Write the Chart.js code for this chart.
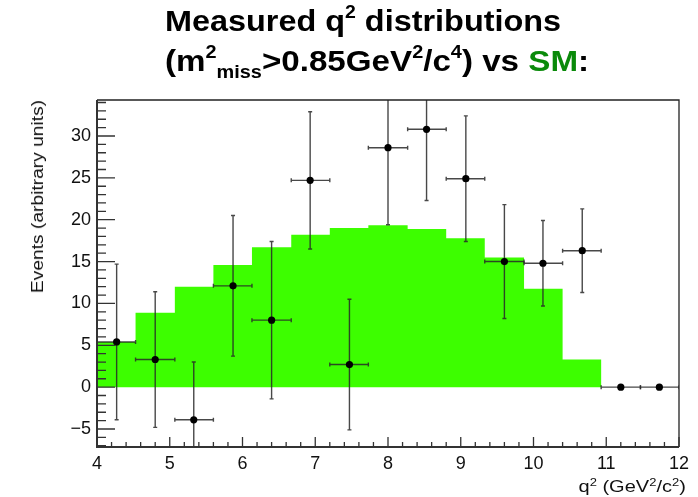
<!DOCTYPE html>
<html>
<head>
<meta charset="utf-8">
<script src="https://cdn.jsdelivr.net/npm/chart.js@4/dist/chart.umd.min.js"></script>
<style>
  html, body { margin: 0; padding: 0; background: #fff; }
  #wrap { position: relative; width: 698px; height: 497px; overflow: hidden; }
  #c { position: absolute; left: 0; top: 0; }
  .txt { position: absolute; font-family: 'Liberation Sans', Arial, Helvetica, sans-serif; color: #111; white-space: nowrap; }
  #title { left: 165px; top: 3px; color: #000; font-weight: bold; font-size: 30px; line-height: 36px; }
  #title .l1 { display: block; transform-origin: 0 0; transform: scaleX(1.08); }
  #title .l2 { display: block; transform-origin: 0 0; transform: scaleX(1.105); }
  #title sup { font-size: 60%; vertical-align: 0; position: relative; top: -0.72em; }
  #title sub { font-size: 60%; vertical-align: 0; position: relative; top: 0.38em; }
  #title .sm { color: #0a8a0a; }
  #ytitle {
    left: 30px; top: 100px; font-size: 16px; line-height: 16px;
    transform-origin: 0 0; transform: rotate(-90deg) scaleX(1.2) translateX(-100%);
  }
  #xtitle {
    right: 12px; top: 479px; font-size: 16px; line-height: 16px;
    transform-origin: 100% 0; transform: scaleX(1.25);
  }
  #xtitle sup { font-size: 65%; vertical-align: 0; position: relative; top: -0.6em; }
</style>
</head>
<body>
<div id="wrap">
  <canvas id="c" width="698" height="497"></canvas>
  <div id="title" class="txt"><span class="l1">Measured q<sup>2</sup> distributions</span><span class="l2">(m<sup>2</sup><sub>miss</sub>&gt;0.85GeV<sup>2</sup>/c<sup>4</sup>) vs <span class="sm">SM</span>:</span></div>
  <div id="ytitle" class="txt">Events (arbitrary units)</div>
  <div id="xtitle" class="txt">q<sup>2</sup> (GeV<sup>2</sup>/c<sup>2</sup>)</div>
</div>
<script>
// ---- data ----
const binEdges = [4.00, 4.53, 5.07, 5.60, 6.13, 6.67, 7.20, 7.73, 8.27, 8.80, 9.33, 9.87, 10.40, 10.93, 11.47, 12.00];
const binCenters = [4.27, 4.80, 5.33, 5.87, 6.40, 6.93, 7.47, 8.00, 8.53, 9.07, 9.60, 10.13, 10.67, 11.20, 11.73];
const smExpected = [5.4, 8.9, 12.0, 14.6, 16.7, 18.2, 19.0, 19.35, 18.9, 17.8, 15.5, 11.75, 3.3, 0, 0];
const measured   = [5.4, 3.3, -3.9, 12.1, 8.0, 24.7, 2.7, 28.6, 30.8, 24.9, 15.0, 14.8, 16.3, 0, 0];
const measErr    = [9.3, 8.1, 6.9, 8.4, 9.4, 8.2, 7.8, 9.2, 8.5, 7.5, 6.8, 5.1, 5.0, 0, 0];
const xTickLabels = ['4', '5', '6', '7', '8', '9', '10', '11', '12'];
const yTickValues = [-5, 0, 5, 10, 15, 20, 25, 30];

const FONT = "'Liberation Sans', Arial, Helvetica, sans-serif";

const histData = binEdges.map((e, i) => ({ x: e, y: i < smExpected.length ? smExpected[i] : 0 }));
const pointData = binCenters.map((c, i) => ({ x: c, y: measured[i] }));

const errorBars = {
  id: 'errorBars',
  beforeDatasetDraw(chart, args) {
    if (args.index !== 1) return;
    const ctx = chart.ctx, xs = chart.scales.x, ys = chart.scales.y, a = chart.chartArea;
    ctx.save();
    ctx.beginPath(); ctx.rect(a.left, a.top, a.right - a.left, a.bottom - a.top); ctx.clip();
    ctx.strokeStyle = 'rgba(40,40,40,0.85)';
    ctx.lineWidth = 1.4;
    const cap = 2;
    binCenters.forEach((c, i) => {
      const px = xs.getPixelForValue(c), py = ys.getPixelForValue(measured[i]);
      const xl = xs.getPixelForValue(binEdges[i]), xr = xs.getPixelForValue(binEdges[i + 1]);
      ctx.beginPath();
      ctx.moveTo(xl, py); ctx.lineTo(xr, py);
      ctx.moveTo(xl, py - cap); ctx.lineTo(xl, py + cap);
      ctx.moveTo(xr, py - cap); ctx.lineTo(xr, py + cap);
      if (measErr[i] > 0) {
        const yt = ys.getPixelForValue(measured[i] + measErr[i]);
        const yb = ys.getPixelForValue(measured[i] - measErr[i]);
        ctx.moveTo(px, yt); ctx.lineTo(px, yb);
        ctx.moveTo(px - cap, yt); ctx.lineTo(px + cap, yt);
        ctx.moveTo(px - cap, yb); ctx.lineTo(px + cap, yb);
      }
      ctx.stroke();
    });
    ctx.restore();
  }
};

const frameTicks = {
  id: 'frameTicks',
  afterDraw(chart) {
    const ctx = chart.ctx, xs = chart.scales.x, ys = chart.scales.y, a = chart.chartArea;
    ctx.save();
    ctx.strokeStyle = '#222';
    ctx.lineWidth = 1.3;
    ctx.beginPath();
    ctx.moveTo(a.left, a.top); ctx.lineTo(a.right, a.top); ctx.lineTo(a.right, a.bottom);
    ctx.stroke();
    ctx.lineWidth = 2;
    ctx.strokeStyle = '#333';
    ctx.beginPath();
    ctx.moveTo(a.left, a.top); ctx.lineTo(a.left, a.bottom); ctx.lineTo(a.right, a.bottom);
    ctx.stroke();
    ctx.lineWidth = 1.3;
    ctx.beginPath();
    for (let v = Math.ceil(ys.min); v <= ys.max; v += 1) {
      const p = ys.getPixelForValue(v);
      const len = (v % 5 === 0) ? 18 : 9;
      ctx.moveTo(a.left, p); ctx.lineTo(a.left + len, p);
    }
    for (let k = 0; k <= 40; k++) {
      const v = xs.min + k * 0.2;
      const p = xs.getPixelForValue(v);
      const len = (k % 5 === 0) ? 10 : 5;
      ctx.moveTo(p, a.bottom); ctx.lineTo(p, a.bottom - len);
    }
    ctx.stroke();
    ctx.restore();
  }
};

new Chart(document.getElementById('c'), {
  data: {
    datasets: [
      {
        type: 'line',
        data: histData,
        stepped: true,
        fill: 'origin',
        backgroundColor: '#3dfe00',
        borderColor: 'rgba(0,0,0,0)',
        borderWidth: 0,
        pointRadius: 0,
        order: 2
      },
      {
        type: 'scatter',
        data: pointData,
        backgroundColor: '#000',
        borderColor: '#000',
        pointRadius: 3.6,
        pointBorderWidth: 0,
        order: 1
      }
    ]
  },
  options: {
    responsive: false,
    animation: false,
    devicePixelRatio: 1,
    layout: { padding: { left: 0, top: 100, right: 19, bottom: 0 } },
    plugins: { legend: { display: false }, tooltip: { enabled: false }, title: { display: false } },
    scales: {
      x: {
        type: 'linear', min: 4, max: 12,
        grid: { display: false, drawTicks: false },
        border: { display: false },
        afterFit(s) { s.height = 50; },
        afterBuildTicks(s) { s.ticks = xTickLabels.map(t => ({ value: Number(t) })); },
        ticks: {
          padding: 6, color: '#111', maxRotation: 0, autoSkip: false,
          font: { family: FONT, size: 18 },
          callback: (v) => String(v)
        }
      },
      y: {
        type: 'linear', min: -7.15, max: 34.3,
        grid: { display: false, drawTicks: false },
        border: { display: false },
        afterFit(s) { s.width = 97; },
        afterBuildTicks(s) { s.ticks = yTickValues.map(v => ({ value: v })); },
        ticks: {
          padding: 6, color: '#111', autoSkip: false,
          font: { family: FONT, size: 18 },
          callback: (v) => String(v).replace('-', '\u2212')
        }
      }
    }
  },
  plugins: [errorBars, frameTicks]
});
</script>
</body>
</html>
